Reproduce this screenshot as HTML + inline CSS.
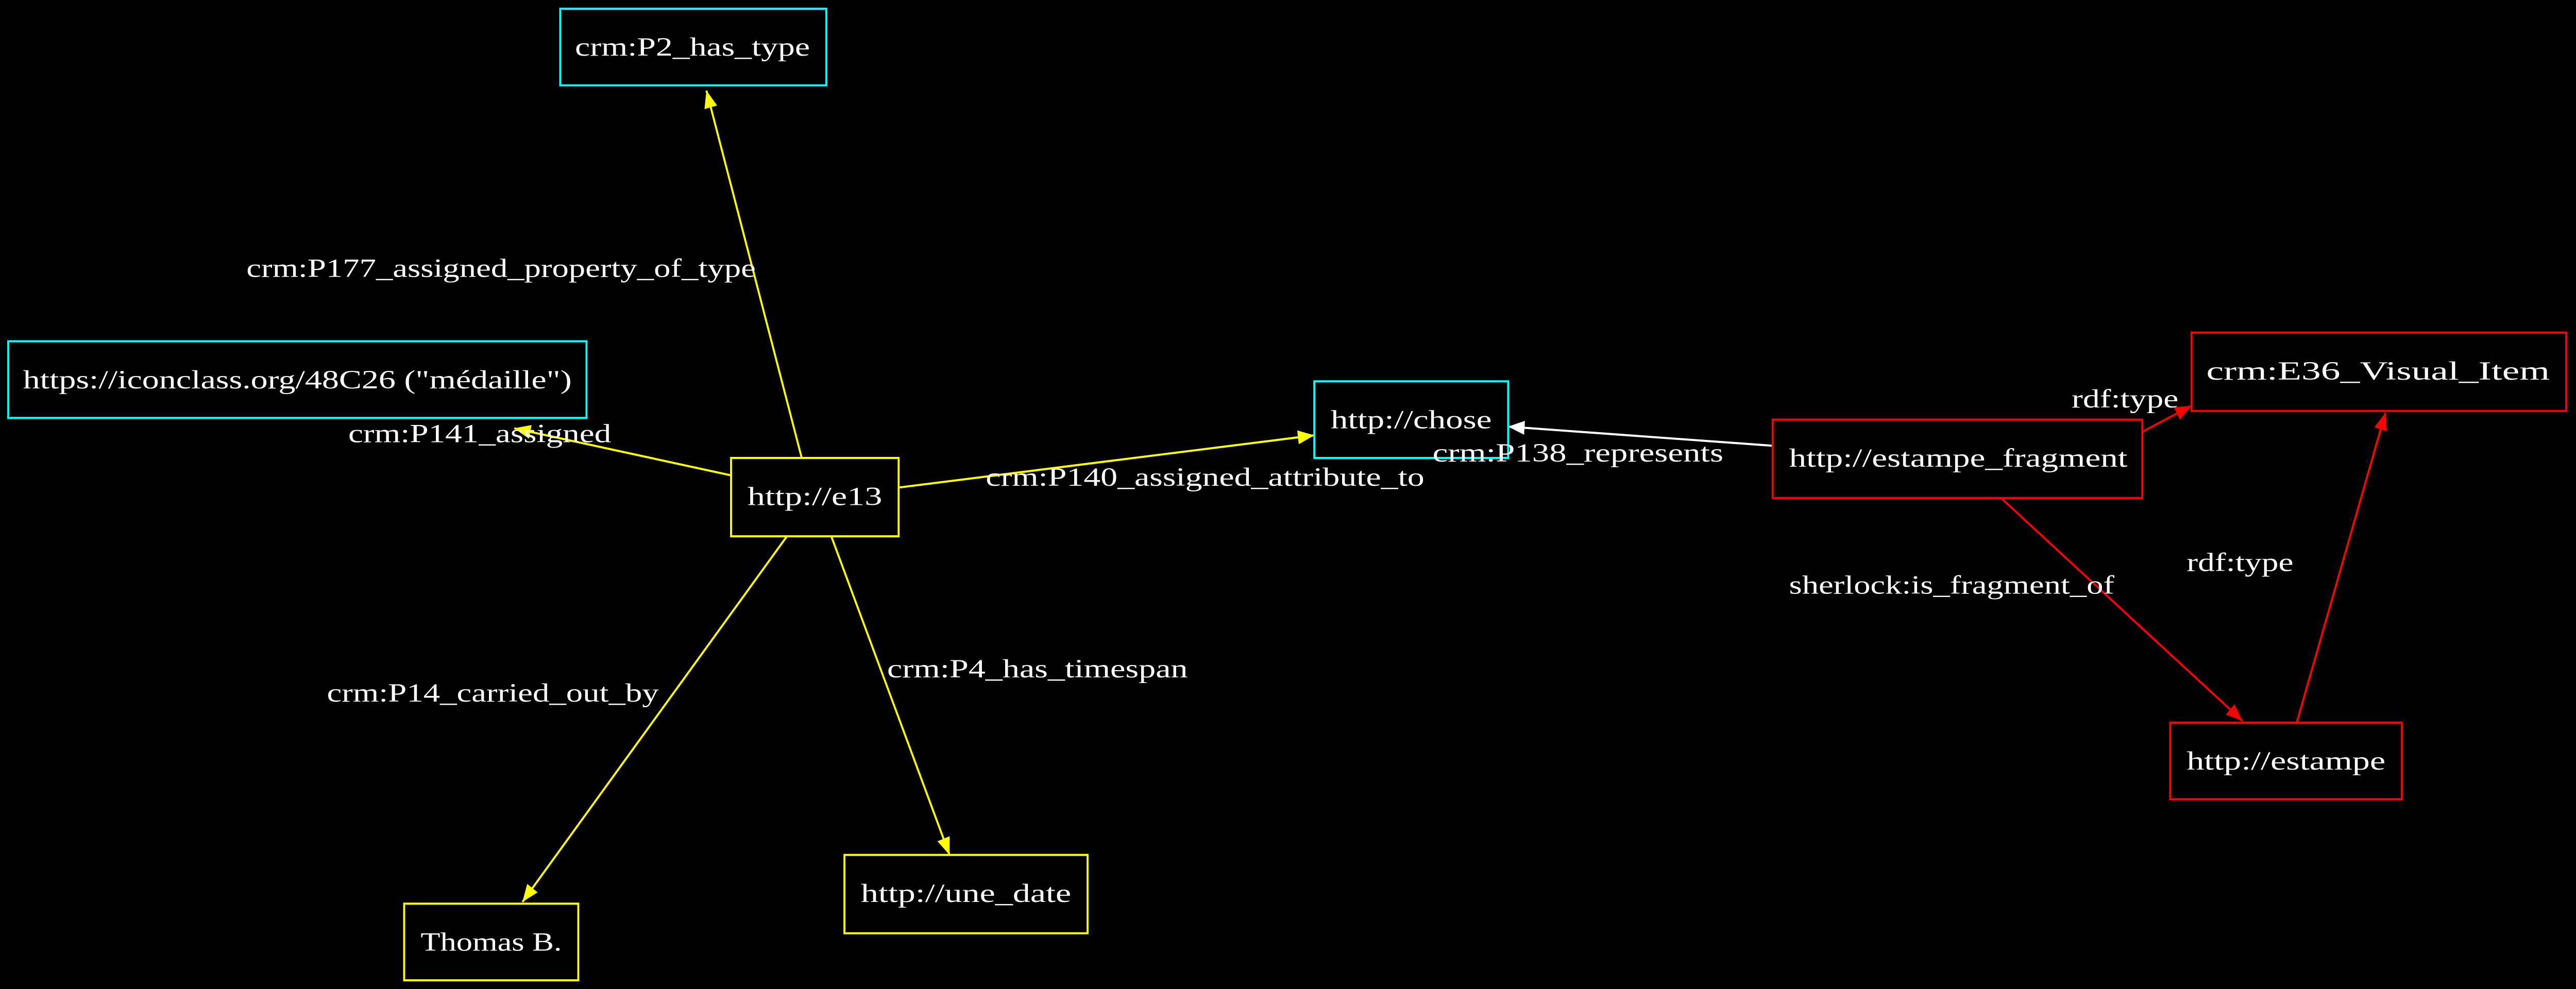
<!DOCTYPE html>
<html><head><meta charset="utf-8"><style>
html,body{margin:0;padding:0;background:#000;width:100%;height:100%;overflow:hidden}
svg{display:block;position:fixed;left:0;top:0;width:100vw;height:100vh}
text{font-family:"Liberation Serif",serif;font-size:15px;fill:#fff}
</style></head><body>
<svg viewBox="0 0 1568 568" preserveAspectRatio="none" xmlns="http://www.w3.org/2000/svg">
<defs>
<marker id="ay" markerWidth="10" markerHeight="8" refX="10" refY="4" orient="auto" markerUnits="userSpaceOnUse"><path d="M0,0L10,4L0,8z" fill="#ff0"/></marker>
<marker id="aw" markerWidth="10" markerHeight="8" refX="10" refY="4" orient="auto" markerUnits="userSpaceOnUse"><path d="M0,0L10,4L0,8z" fill="#fff"/></marker>
<marker id="ar" markerWidth="10" markerHeight="8" refX="10" refY="4" orient="auto" markerUnits="userSpaceOnUse"><path d="M0,0L10,4L0,8z" fill="#f00"/></marker>
</defs>
<rect width="1568" height="568" fill="#000"/>
<g stroke-width="1.2" fill="none">
<line x1="488" y1="263" x2="430" y2="52" stroke="#ff0" marker-end="url(#ay)"/>
<line x1="445" y1="273" x2="313" y2="246" stroke="#ff0" marker-end="url(#ay)"/>
<line x1="547" y1="280" x2="800" y2="250" stroke="#ff0" marker-end="url(#ay)"/>
<line x1="479" y1="308" x2="318" y2="518" stroke="#ff0" marker-end="url(#ay)"/>
<line x1="506" y1="308" x2="578" y2="491" stroke="#ff0" marker-end="url(#ay)"/>
<line x1="1079" y1="256" x2="918" y2="245" stroke="#fff" marker-end="url(#aw)"/>
<line x1="1304" y1="248" x2="1334" y2="233" stroke="#f00" marker-end="url(#ar)"/>
<line x1="1218" y1="286" x2="1365" y2="414" stroke="#f00" marker-end="url(#ar)"/>
<line x1="1398" y1="415" x2="1452" y2="237" stroke="#f00" marker-end="url(#ar)"/>
</g>
<g stroke-width="1.2" fill="none">
<rect x="341" y="5" width="162" height="44" stroke="#0ff"/>
<rect x="5" y="196" width="352" height="44" stroke="#0ff"/>
<rect x="445" y="263" width="102" height="45" stroke="#ff0"/>
<rect x="800" y="219" width="118" height="44" stroke="#0ff"/>
<rect x="1079" y="241" width="225" height="45" stroke="#f00"/>
<rect x="1334" y="191" width="228" height="45" stroke="#f00"/>
<rect x="1321" y="415" width="141" height="44" stroke="#f00"/>
<rect x="246" y="519" width="106" height="44" stroke="#ff0"/>
<rect x="514" y="491" width="148" height="45" stroke="#ff0"/>
</g>
<g>
<text x="350" y="32" textLength="143" lengthAdjust="spacingAndGlyphs">crm:P2_has_type</text>
<text x="14" y="223" textLength="334" lengthAdjust="spacingAndGlyphs">https://iconclass.org/48C26 ("médaille")</text>
<text x="455" y="290" textLength="82" lengthAdjust="spacingAndGlyphs">http://e13</text>
<text x="810" y="246" textLength="98" lengthAdjust="spacingAndGlyphs">http://chose</text>
<text x="1089" y="268" textLength="206" lengthAdjust="spacingAndGlyphs">http://estampe_fragment</text>
<text x="1343" y="218" textLength="209" lengthAdjust="spacingAndGlyphs">crm:E36_Visual_Item</text>
<text x="1331" y="442" textLength="121" lengthAdjust="spacingAndGlyphs">http://estampe</text>
<text x="256" y="546" textLength="86" lengthAdjust="spacingAndGlyphs">Thomas B.</text>
<text x="524" y="518" textLength="128" lengthAdjust="spacingAndGlyphs">http://une_date</text>
<text x="150" y="159" textLength="310" lengthAdjust="spacingAndGlyphs">crm:P177_assigned_property_of_type</text>
<text x="212" y="254" textLength="160" lengthAdjust="spacingAndGlyphs">crm:P141_assigned</text>
<text x="600" y="279" textLength="267" lengthAdjust="spacingAndGlyphs">crm:P140_assigned_attribute_to</text>
<text x="872" y="265" textLength="177" lengthAdjust="spacingAndGlyphs">crm:P138_represents</text>
<text x="1261" y="234" textLength="65" lengthAdjust="spacingAndGlyphs">rdf:type</text>
<text x="1089" y="341" textLength="198" lengthAdjust="spacingAndGlyphs">sherlock:is_fragment_of</text>
<text x="1331" y="328" textLength="65" lengthAdjust="spacingAndGlyphs">rdf:type</text>
<text x="199" y="403" textLength="202" lengthAdjust="spacingAndGlyphs">crm:P14_carried_out_by</text>
<text x="540" y="389" textLength="183" lengthAdjust="spacingAndGlyphs">crm:P4_has_timespan</text>
</g>
</svg>
</body></html>
